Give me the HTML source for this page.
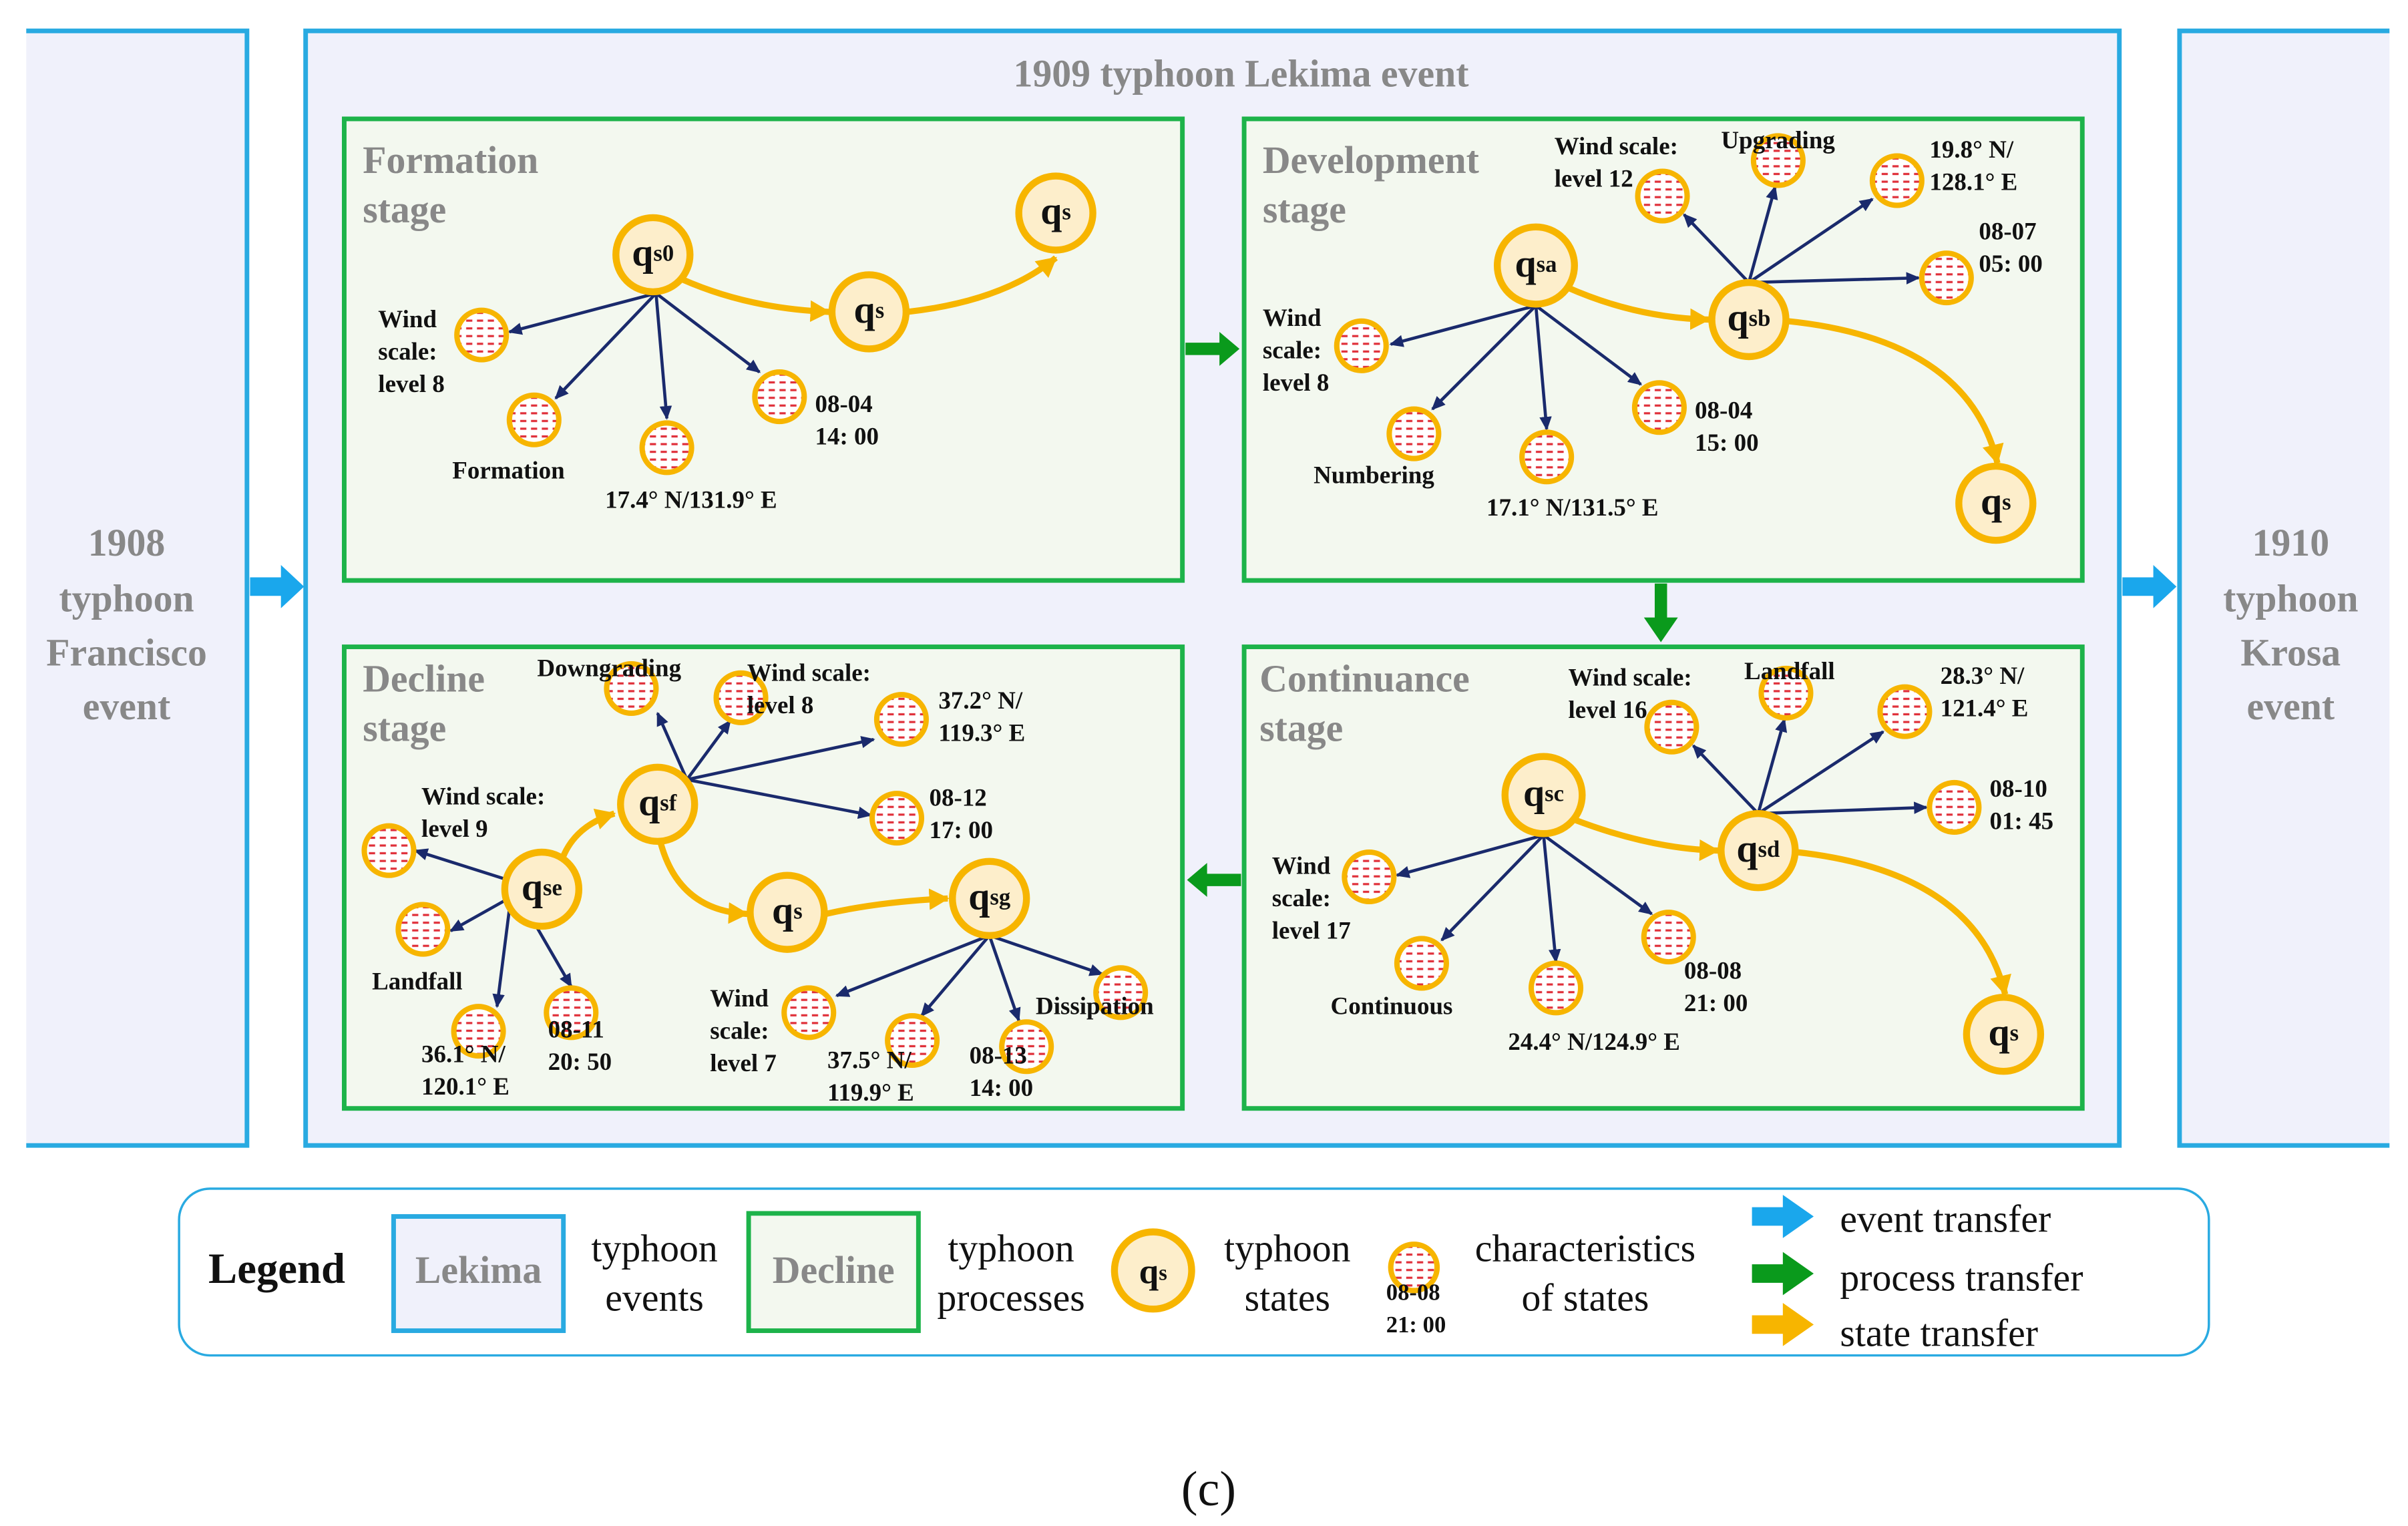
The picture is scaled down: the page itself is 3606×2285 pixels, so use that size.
<!DOCTYPE html>
<html><head><meta charset="utf-8"><style>html,body{margin:0;padding:0;background:#fff}svg{display:block}
.l{font-family:"Liberation Serif",serif;font-weight:bold;font-size:16px;fill:#111}
.t{font-family:"Liberation Serif",serif;font-weight:bold;font-size:25px;fill:#888}
.q{font-family:"Liberation Serif",serif;font-weight:bold;font-size:25px;fill:#111}
.g{font-family:"Liberation Serif",serif;font-size:25px;fill:#111}
</style></head><body>
<svg width="3606" height="2285" viewBox="0 0 1560 988.5" xmlns="http://www.w3.org/2000/svg">
<defs>
<pattern id="d" width="7" height="5" patternUnits="userSpaceOnUse"><rect width="7" height="5" fill="#fff"/><rect x="1" y="2" width="4" height="1.4" fill="#e0303a"/></pattern>
<marker id="mn" markerWidth="10" markerHeight="10" refX="8" refY="5" orient="auto" markerUnits="userSpaceOnUse"><path d="M0,1 L9,5 L0,9 Z" fill="#1a2a6c"/></marker>
<marker id="mo" markerWidth="16" markerHeight="16" refX="12" refY="8" orient="auto" markerUnits="userSpaceOnUse"><path d="M0,1 L13,8 L0,15 Z" fill="#f7b500"/></marker>
</defs>
<!-- outer panels -->
<rect x="17" y="20" width="143" height="722" fill="#f0f1fb"/>
<path d="M17,20 H160 V742 H17" fill="none" stroke="#29aae1" stroke-width="3"/>
<rect x="198" y="20" width="1175" height="722" fill="#f0f1fb" stroke="#29aae1" stroke-width="3"/>
<rect x="1412" y="20" width="136" height="722" fill="#f0f1fb"/>
<path d="M1548,20 H1412 V742 H1548" fill="none" stroke="#29aae1" stroke-width="3"/>
<text class="t" x="82" y="360" text-anchor="middle" font-size="27">1908</text>
<text class="t" x="82" y="396" text-anchor="middle" font-size="27">typhoon</text>
<text class="t" x="82" y="431" text-anchor="middle" font-size="27">Francisco</text>
<text class="t" x="82" y="466" text-anchor="middle" font-size="27">event</text>
<text class="t" x="1484" y="360" text-anchor="middle" font-size="27">1910</text>
<text class="t" x="1484" y="396" text-anchor="middle" font-size="27">typhoon</text>
<text class="t" x="1484" y="431" text-anchor="middle" font-size="27">Krosa</text>
<text class="t" x="1484" y="466" text-anchor="middle" font-size="27">event</text>
<text class="t" x="804" y="56" text-anchor="middle" font-size="26">1909 typhoon Lekima event</text>
<!-- event arrows -->
<path d="M162,374 h20 v-8 l15,14 l-15,14 v-8 h-20z" fill="#1aa7ec"/>
<path d="M1375,374 h20 v-8 l15,14 l-15,14 v-8 h-20z" fill="#1aa7ec"/>
<!-- green boxes -->
<g fill="#f3f8ef" stroke="#1db34a" stroke-width="3">
<rect x="223" y="77" width="543" height="299"/><rect x="806" y="77" width="543" height="299"/>
<rect x="223" y="419" width="543" height="299"/><rect x="806" y="419" width="543" height="299"/></g>
<g fill="#0a9a1c">
<path d="M768,222 h22 v-7 l13,11 l-13,11 v-7 h-22z"/>
<path d="M1072,378 v22 h-7 l11,16 l11,-16 h-7 v-22z"/>
<path d="M804,566 h-22 v-7 l-13,11 l13,11 v-7 h22z"/></g>
<g class="t"><text x="235" y="112">Formation</text><text x="235" y="144">stage</text>
<text x="818" y="112">Development</text><text x="818" y="144">stage</text>
<text x="235" y="448">Decline</text><text x="235" y="480">stage</text>
<text x="816" y="448">Continuance</text><text x="816" y="480">stage</text></g>
<!-- legend box -->
<rect x="116" y="770" width="1315" height="108" rx="20" fill="#fff" stroke="#29aae1" stroke-width="1.5"/>
<!-- navy arrows -->
<g stroke="#1a2a6c" stroke-width="2" fill="none" marker-end="url(#mn)">
<path d="M425,190 L330,215"/><path d="M425,190 L360,258"/><path d="M425,190 L432,271"/><path d="M425,190 L492,241"/>
<path d="M995,198 L901,223"/><path d="M995,198 L928,265"/><path d="M995,198 L1002,278"/><path d="M995,198 L1063,249"/>
<path d="M1133,183 L1091,139"/><path d="M1133,183 L1150,121"/><path d="M1133,183 L1213,129"/><path d="M1133,183 L1243,180"/>
<path d="M1000,541 L905,567"/><path d="M1000,541 L934,609"/><path d="M1000,541 L1008,623"/><path d="M1000,541 L1070,592"/>
<path d="M1139,527 L1097,483"/><path d="M1139,527 L1156,466"/><path d="M1139,527 L1220,474"/><path d="M1139,527 L1248,523"/>
<path d="M445,505 L426,462"/><path d="M445,505 L473,467"/><path d="M445,505 L566,479"/><path d="M445,505 L564,528"/>
<path d="M329,570 L269,551"/><path d="M333,580 L292,603"/><path d="M330,589 L322,652"/><path d="M348,601 L370,639"/>
<path d="M641,606 L542,645"/><path d="M641,606 L597,658"/><path d="M641,606 L660,661"/><path d="M641,606 L714,631"/>
</g>
<!-- orange transitions -->
<g stroke="#f7b500" stroke-width="4" fill="none" marker-end="url(#mo)">
<path d="M442,181 Q485,200 537,202"/><path d="M588,202 Q650,195 684,167"/>
<path d="M1015,186 Q1060,206 1107,207"/><path d="M1158,208 Q1275,220 1294,300"/>
<path d="M1020,531 Q1070,550 1113,551"/><path d="M1164,552 Q1280,565 1299,644"/>
<path d="M364,557 Q372,535 398,527"/><path d="M428,546 Q440,590 484,592"/><path d="M535,592 Q570,584 614,582"/>
</g>
<!-- small circles -->
<g fill="url(#d)" stroke="#f7b500" stroke-width="3.5">
<circle cx="312" cy="217" r="16"/><circle cx="346" cy="272" r="16"/><circle cx="432" cy="290" r="16"/><circle cx="505" cy="257" r="16"/>
<circle cx="882" cy="224" r="16"/><circle cx="916" cy="281" r="16"/><circle cx="1002" cy="296" r="16"/><circle cx="1075" cy="264" r="16"/>
<circle cx="1077" cy="127" r="16"/><circle cx="1152" cy="104" r="16"/><circle cx="1229" cy="117" r="16"/><circle cx="1261" cy="180" r="16"/>
<circle cx="887" cy="568" r="16"/><circle cx="921" cy="624" r="16"/><circle cx="1008" cy="640" r="16"/><circle cx="1081" cy="607" r="16"/>
<circle cx="1083" cy="471" r="16"/><circle cx="1157" cy="449" r="16"/><circle cx="1234" cy="461" r="16"/><circle cx="1266" cy="523" r="16"/>
<circle cx="409" cy="446" r="16"/><circle cx="480" cy="452" r="16"/><circle cx="584" cy="466" r="16"/><circle cx="581" cy="530" r="16"/>
<circle cx="252" cy="551" r="16"/><circle cx="274" cy="602" r="16"/><circle cx="310" cy="668" r="16"/><circle cx="370" cy="656" r="16"/>
<circle cx="524" cy="656" r="16"/><circle cx="591" cy="674" r="16"/><circle cx="665" cy="678" r="16"/><circle cx="726" cy="643" r="16"/>
<circle cx="916" cy="821" r="15"/>
</g>
<!-- big circles -->
<g fill="#fdeecb" stroke="#f7b500" stroke-width="4.5">
<circle cx="423" cy="165" r="24"/><circle cx="563" cy="202" r="24"/><circle cx="684" cy="138" r="24"/>
<circle cx="995" cy="172" r="25"/><circle cx="1133" cy="207" r="24"/><circle cx="1293" cy="326" r="24"/>
<circle cx="1000" cy="515" r="25"/><circle cx="1139" cy="551" r="24"/><circle cx="1298" cy="670" r="24"/>
<circle cx="426" cy="521" r="24"/><circle cx="351" cy="576" r="24"/><circle cx="510" cy="591" r="24"/><circle cx="641" cy="582" r="24"/>
<circle cx="747" cy="823" r="25"/>
</g>
<g class="q">
<text x="423" y="172" text-anchor="middle">q<tspan font-size="15" dy="-3">s0</tspan></text>
<text x="563" y="209" text-anchor="middle">q<tspan font-size="15" dy="-3">s</tspan></text>
<text x="684" y="145" text-anchor="middle">q<tspan font-size="15" dy="-3">s</tspan></text>
<text x="995" y="179" text-anchor="middle">q<tspan font-size="15" dy="-3">sa</tspan></text>
<text x="1133" y="214" text-anchor="middle">q<tspan font-size="15" dy="-3">sb</tspan></text>
<text x="1293" y="333" text-anchor="middle">q<tspan font-size="15" dy="-3">s</tspan></text>
<text x="1000" y="522" text-anchor="middle">q<tspan font-size="15" dy="-3">sc</tspan></text>
<text x="1139" y="558" text-anchor="middle">q<tspan font-size="15" dy="-3">sd</tspan></text>
<text x="1298" y="677" text-anchor="middle">q<tspan font-size="15" dy="-3">s</tspan></text>
<text x="426" y="528" text-anchor="middle">q<tspan font-size="15" dy="-3">sf</tspan></text>
<text x="351" y="583" text-anchor="middle">q<tspan font-size="15" dy="-3">se</tspan></text>
<text x="510" y="598" text-anchor="middle">q<tspan font-size="15" dy="-3">s</tspan></text>
<text x="641" y="589" text-anchor="middle">q<tspan font-size="15" dy="-3">sg</tspan></text>
<text x="747" y="831" text-anchor="middle" font-size="23">q<tspan font-size="14" dy="-2">s</tspan></text>
</g>
<!-- labels -->
<g class="l">
<text x="245" y="212">Wind</text><text x="245" y="233">scale:</text><text x="245" y="254">level 8</text>
<text x="293" y="310">Formation</text><text x="392" y="329">17.4°  N/131.9°  E</text>
<text x="528" y="267">08-04</text><text x="528" y="288">14:  00</text>
<text x="818" y="211">Wind</text><text x="818" y="232">scale:</text><text x="818" y="253">level 8</text>
<text x="851" y="313">Numbering</text><text x="963" y="334">17.1°  N/131.5°  E</text>
<text x="1098" y="271">08-04</text><text x="1098" y="292">15:  00</text>
<text x="1007" y="100">Wind scale:</text><text x="1007" y="121">level 12</text>
<text x="1115" y="96">Upgrading</text>
<text x="1250" y="102">19.8°  N/</text><text x="1250" y="123">128.1°  E</text>
<text x="1282" y="155">08-07</text><text x="1282" y="176">05:  00</text>
<text x="824" y="566">Wind</text><text x="824" y="587">scale:</text><text x="824" y="608">level 17</text>
<text x="862" y="657">Continuous</text><text x="977" y="680">24.4°  N/124.9°  E</text>
<text x="1091" y="634">08-08</text><text x="1091" y="655">21:  00</text>
<text x="1016" y="444">Wind scale:</text><text x="1016" y="465">level 16</text>
<text x="1130" y="440">Landfall</text>
<text x="1257" y="443">28.3°  N/</text><text x="1257" y="464">121.4°  E</text>
<text x="1289" y="516">08-10</text><text x="1289" y="537">01:  45</text>
<text x="348" y="438">Downgrading</text>
<text x="484" y="441">Wind scale:</text><text x="484" y="462">level 8</text>
<text x="608" y="459">37.2°  N/</text><text x="608" y="480">119.3°  E</text>
<text x="602" y="522">08-12</text><text x="602" y="543">17:  00</text>
<text x="273" y="521">Wind scale:</text><text x="273" y="542">level 9</text>
<text x="241" y="641">Landfall</text>
<text x="273" y="688">36.1°  N/</text><text x="273" y="709">120.1°  E</text>
<text x="355" y="672">08-11</text><text x="355" y="693">20:  50</text>
<text x="460" y="652">Wind</text><text x="460" y="673">scale:</text><text x="460" y="694">level 7</text>
<text x="536" y="692">37.5°  N/</text><text x="536" y="713">119.9°  E</text>
<text x="628" y="689">08-13</text><text x="628" y="710">14:  00</text>
<text x="671" y="657">Dissipation</text>
<text x="898" y="842" font-size="15">08-08</text><text x="898" y="863" font-size="15">21:  00</text>
</g>
<!-- legend -->
<text x="135" y="831" font-family="Liberation Serif,serif" font-weight="bold" font-size="28" fill="#111">Legend</text>
<rect x="255" y="788" width="110" height="74" fill="#f0f1fb" stroke="#29aae1" stroke-width="3"/>
<text x="310" y="831" text-anchor="middle" class="t" font-weight="normal" font-size="25">Lekima</text>
<text x="424" y="817" text-anchor="middle" class="g">typhoon</text><text x="424" y="849" text-anchor="middle" class="g">events</text>
<rect x="485" y="786" width="110" height="76" fill="#f3f8ef" stroke="#1db34a" stroke-width="3"/>
<text x="540" y="831" text-anchor="middle" class="t" font-weight="normal" font-size="25">Decline</text>
<text x="655" y="817" text-anchor="middle" class="g">typhoon</text><text x="655" y="849" text-anchor="middle" class="g">processes</text>
<text x="834" y="817" text-anchor="middle" class="g">typhoon</text><text x="834" y="849" text-anchor="middle" class="g">states</text>
<text x="1027" y="817" text-anchor="middle" class="g">characteristics</text><text x="1027" y="849" text-anchor="middle" class="g">of states</text>
<path d="M1135,782 h20 v-8 l20,14 l-20,14 v-8 h-20z" fill="#1aa7ec"/>
<path d="M1135,819 h20 v-8 l20,14 l-20,14 v-8 h-20z" fill="#0a9a1c"/>
<path d="M1135,852 h20 v-8 l20,14 l-20,14 v-8 h-20z" fill="#f7b500"/>
<text x="1192" y="798" class="g" font-size="24">event transfer</text>
<text x="1192" y="836" class="g" font-size="24">process transfer</text>
<text x="1192" y="872" class="g" font-size="24">state transfer</text>
<text x="783" y="975" text-anchor="middle" font-family="Liberation Serif,serif" font-size="32" fill="#111">(c)</text>
</svg>
</body></html>
